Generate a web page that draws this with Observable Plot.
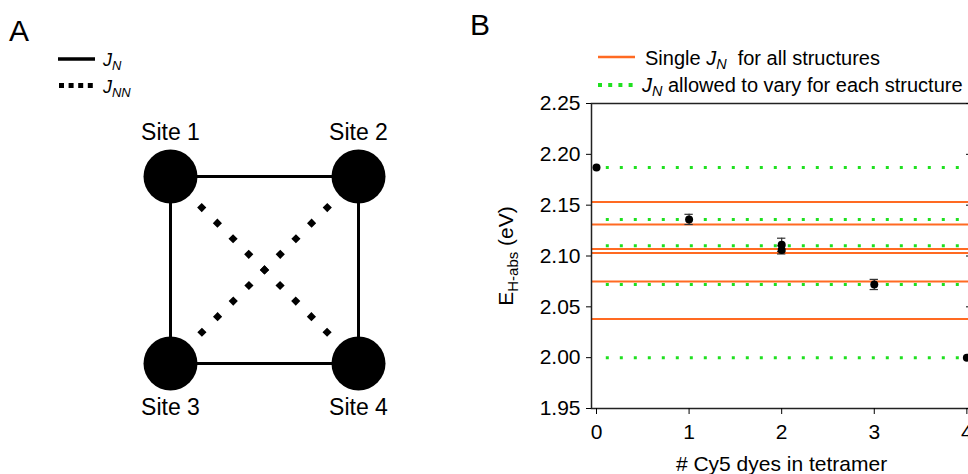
<!DOCTYPE html>
<html><head><meta charset="utf-8">
<script src="https://cdn.jsdelivr.net/npm/d3@7"></script>
<script src="https://cdn.jsdelivr.net/npm/@observablehq/plot@0.6"></script>
<style>
html,body{margin:0;padding:0;background:#fff;overflow:hidden;}
#root{position:relative;width:968px;height:474px;overflow:hidden;font-family:"Liberation Sans",Arial,sans-serif;color:#000;}
#root svg{position:absolute;top:0;}
.t{position:absolute;white-space:nowrap;line-height:1;}
.t sub{font-size:0.72em;vertical-align:-0.28em;line-height:0;}
</style></head><body><div id="root"></div>
<script>
// ---------- Panel A data ----------
const sites = ["Site 1", "Site 2", "Site 3", "Site 4"];
const siteCol = [0, 1, 0, 1];
const siteRow = [0, 0, 1, 1];
const nearestPairs = [[0, 1], [0, 2], [1, 3], [2, 3]];
const nextNearestPairs = [[0, 3], [1, 2]];

// ---------- Panel B data ----------
const dyeCount = [0, 1, 2, 2, 3, 4];
const energy = [2.187, 2.136, 2.111, 2.106, 2.072, 2.000];
const energyErr = [0, 0.005, 0.0065, 0.004, 0.005, 0];
const singleJN = [2.153, 2.131, 2.107, 2.103, 2.075, 2.038];
const varyJN = [2.187, 2.136, 2.110, 2.072, 2.000];
const yTicks = [1.95, 2.00, 2.05, 2.10, 2.15, 2.20, 2.25];
const xTicks = [0, 1, 2, 3, 4];

const FONT = '"Liberation Sans", Arial, sans-serif';
const ORANGE = "#ff6a22";
const GREEN = "#1fe01f";
const root = document.getElementById("root");

// ---------- Panel A ----------
const siteData = sites.map((name, i) => ({name, col: siteCol[i], row: siteRow[i]}));
const toLink = p => ({x1: siteCol[p[0]], y1: siteRow[p[0]], x2: siteCol[p[1]], y2: siteRow[p[1]]});
const plotA = Plot.plot({
  width: 460, height: 474,
  marginLeft: 170, marginRight: 102, marginTop: 176, marginBottom: 111,
  x: {domain: [0, 1], axis: null},
  y: {domain: [0, 1], reverse: true, axis: null},
  style: {fontFamily: FONT, background: "transparent", color: "black", overflow: "visible"},
  marks: [
    Plot.link(nearestPairs.map(toLink), {x1: "x1", y1: "y1", x2: "x2", y2: "y2", stroke: "black", strokeWidth: 3}),
    Plot.link(nextNearestPairs.map(toLink), {x1: "x1", y1: "y1", x2: "x2", y2: "y2", stroke: "black",
      strokeWidth: 6.5, strokeDasharray: "6.5,15.6", strokeDashoffset: 3.4}),
    Plot.dot(siteData, {x: "col", y: "row", r: 27, fill: "black"}),
    Plot.text(siteData.filter(d => d.row === 0), {x: "col", y: "row", text: "name", dy: -44, fontSize: 23, fill: "black"}),
    Plot.text(siteData.filter(d => d.row === 1), {x: "col", y: "row", text: "name", dy: 44, fontSize: 23, fill: "black"})
  ]
});
plotA.style.left = "0px";
root.appendChild(plotA);

// ---------- Panel B ----------
const pts = dyeCount.map((x, i) => ({x, y: energy[i], e: energyErr[i]}));
const bars = pts.filter(d => d.e > 0);
const plotB = Plot.plot({
  width: 491, height: 474,
  marginLeft: 111, marginRight: 0, marginTop: 103, marginBottom: 66,
  x: {domain: [-0.054, 4.05]},
  y: {domain: [1.95, 2.25]},
  style: {fontFamily: FONT, fontSize: "20px", background: "transparent", color: "black"},
  marks: [
    Plot.ruleY(singleJN, {stroke: ORANGE, strokeWidth: 2}),
    Plot.ruleY(varyJN, {x1: 0, x2: 4, stroke: GREEN, strokeWidth: 3, strokeDasharray: "3,11", strokeDashoffset: 4.2}),
    Plot.ruleX(bars, {x: "x", y1: d => d.y - d.e, y2: d => d.y + d.e, stroke: "#333", strokeWidth: 1.2}),
    Plot.ruleY(bars, {y: d => d.y + d.e, x1: d => d.x - 0.045, x2: d => d.x + 0.045, stroke: "#333", strokeWidth: 1.2}),
    Plot.ruleY(bars, {y: d => d.y - d.e, x1: d => d.x - 0.045, x2: d => d.x + 0.045, stroke: "#333", strokeWidth: 1.2}),
    Plot.dot(pts, {x: "x", y: "y", r: 4, fill: "black"}),
    Plot.frame({stroke: "#222", strokeWidth: 1.5}),
    Plot.axisY({ticks: yTicks, tickFormat: ".2f", tickSize: 5, tickPadding: 6,
      label: "E (eV)", labelAnchor: "center", labelOffset: 93, fontSize: 21}),
    Plot.axisY({anchor: "right", ticks: yTicks, tickSize: -6, tickFormat: () => "", label: null}),
    Plot.axisX({ticks: xTicks, tickFormat: "d", tickSize: 6, tickPadding: 10,
      label: "# Cy5 dyes in tetramer", labelAnchor: "center", labelOffset: 62, fontSize: 21})
  ]
});
plotB.style.left = "480px";
root.appendChild(plotB);
// fix labels: subscripts on y, no arrow on x
const ns = "http://www.w3.org/2000/svg";
const yl = plotB.querySelector('[aria-label="y-axis label"] text');
if (yl) {
  yl.textContent = "";
  const a = document.createElementNS(ns, "tspan"); a.textContent = "E";
  const b = document.createElementNS(ns, "tspan"); b.textContent = "H-abs"; b.setAttribute("font-size", "15"); b.setAttribute("dy", "5");
  const c = document.createElementNS(ns, "tspan"); c.textContent = "\u00a0(eV)"; c.setAttribute("dy", "-5");
  yl.append(a, b, c);
}
const xl = plotB.querySelector('[aria-label="x-axis label"] text');
if (xl) xl.textContent = "# Cy5 dyes in tetramer";

// ---------- Legends and panel letters (HTML) ----------
function addHTML(html, left, top, size) {
  const d = document.createElement("div");
  d.className = "t"; d.innerHTML = html;
  d.style.left = left + "px"; d.style.top = top + "px"; d.style.fontSize = size + "px";
  root.appendChild(d);
}
addHTML("A", 9, 16, 30);
addHTML("B", 470, 10, 30);

const sw = document.createElementNS(ns, "svg");
sw.setAttribute("width", 968); sw.setAttribute("height", 110);
sw.style.left = "0px"; sw.style.pointerEvents = "none";
sw.innerHTML = `
  <line x1="58" x2="95" y1="59" y2="59" stroke="black" stroke-width="3.5"/>
  <line x1="59" x2="93" y1="85.5" y2="85.5" stroke="black" stroke-width="5" stroke-dasharray="5,4.6"/>
  <line x1="598" x2="635" y1="57" y2="57" stroke="${ORANGE}" stroke-width="2.5"/>
  <line x1="598" x2="634" y1="85" y2="85" stroke="${GREEN}" stroke-width="4" stroke-dasharray="4,6.2"/>`;
root.appendChild(sw);

addHTML("<i>J</i><sub><i>N</i></sub>", 103, 51, 18);
addHTML("<i>J</i><sub><i>NN</i></sub>", 103, 78, 18);
addHTML("Single <i>J</i><sub><i>N</i></sub>&nbsp; for all structures", 645, 48, 20);
addHTML("<i>J</i><sub><i>N</i></sub> allowed to vary for each structure", 642, 75, 20);
</script></body></html>
